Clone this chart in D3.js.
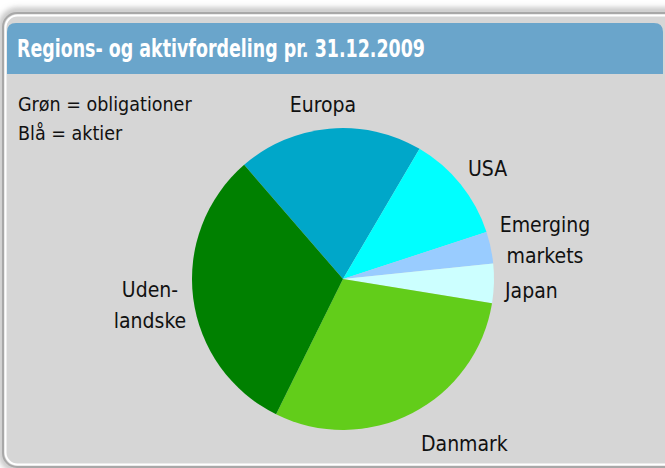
<!DOCTYPE html>
<html>
<head>
<meta charset="utf-8">
<script src="https://cdn.jsdelivr.net/npm/d3@7"></script>
<style>
  body { margin: 0; background: #ffffff; }
  svg { display: block; }
</style>
</head>
<body>
<svg id="chart"></svg>
<script>
// data (shares in %)
var categories = ["Europa", "USA", "Emerging markets", "Japan", "Danmark", "Udenlandske"];
var shares = [19.8, 11.5, 3.4, 4.2, 29.7, 31.3];
var sliceColors = ["#00a7c9", "#00ffff", "#99ccff", "#ccffff", "#62cd1a", "#008000"];
var titleText = "Regions- og aktivfordeling pr. 31.12.2009";
var noteLines = ["Grøn = obligationer", "Blå = aktier"];

var screen = {width: 665, height: 468};
var labelFont = "'DejaVu Sans Condensed', 'DejaVu Sans', sans-serif";

var svg = d3.select("#chart")
    .attr("width", screen.width)
    .attr("height", screen.height);

var defs = svg.append("defs");
defs.append("filter")
    .attr("id", "soft")
    .attr("x", "-10%").attr("y", "-10%")
    .attr("width", "120%").attr("height", "120%")
    .append("feGaussianBlur")
    .attr("stdDeviation", 3);

// soft shadow round the panel
svg.append("rect")
    .attr("x", 2).attr("y", 11)
    .attr("width", 690).attr("height", 458)
    .attr("rx", 15)
    .attr("fill", "none")
    .attr("stroke", "#9a9a9a")
    .attr("stroke-width", 4)
    .attr("filter", "url(#soft)");

// panel frame
svg.append("rect")
    .attr("x", 3).attr("y", 13)
    .attr("width", 690).attr("height", 454)
    .attr("rx", 14)
    .attr("fill", "#d6d6d6")
    .attr("stroke", "#a8a8a8")
    .attr("stroke-width", 2);
svg.append("rect")
    .attr("x", 5.5).attr("y", 15.5)
    .attr("width", 690).attr("height", 449)
    .attr("rx", 12)
    .attr("fill", "none")
    .attr("stroke", "#ffffff")
    .attr("stroke-width", 2);

// header bar (rounded top corners only)
var hx = 7, hy = 23, hw = 656, hh = 51, hr = 9;
svg.append("path")
    .attr("d", "M" + hx + "," + (hy + hh) +
        " V" + (hy + hr) +
        " Q" + hx + "," + hy + " " + (hx + hr) + "," + hy +
        " H" + (hx + hw - hr) +
        " Q" + (hx + hw) + "," + hy + " " + (hx + hw) + "," + (hy + hr) +
        " V" + (hy + hh) + " Z")
    .attr("fill", "#6aa5cb");

var title = svg.append("text")
    .attr("x", 17).attr("y", 57)
    .attr("fill", "#ffffff")
    .attr("font-family", "'Liberation Sans Narrow', 'DejaVu Sans Condensed', sans-serif")
    .attr("font-weight", "bold")
    .attr("font-size", "25.5px")
    .text(titleText);
var tw = title.node().getComputedTextLength();
if (Math.abs(tw - 408) > 4) {
    title.attr("textLength", 408).attr("lengthAdjust", "spacingAndGlyphs");
}

// note in the corner
svg.append("g")
    .selectAll("text")
    .data(noteLines)
    .enter()
    .append("text")
    .attr("x", 18)
    .attr("y", function(d, i) { return 111 + i * 29; })
    .attr("font-family", labelFont)
    .attr("font-size", "19.5px")
    .attr("fill", "#111")
    .text(function(d) { return d; });

// pie
var center = {x: 343, y: 279};
var radius = 151;
var start = -40.9 * Math.PI / 180;

var pie = d3.pie()
    .sort(null)
    .value(function(d) { return d; })
    .startAngle(start)
    .endAngle(start + 2 * Math.PI);

var arc = d3.arc().innerRadius(0).outerRadius(radius);

var colorScale = d3.scaleOrdinal().domain(categories).range(sliceColors);

var arcs = pie(shares);

var plot = svg.append("g")
    .attr("id", "graph")
    .attr("transform", "translate(" + center.x + "," + center.y + ")");

plot.selectAll("path")
    .data(arcs)
    .enter()
    .append("path")
    .attr("d", arc)
    .attr("fill", function(d, i) { return colorScale(categories[i]); });

// label placement (text lines, anchor x, first baseline)
var labelLayout = {
    "Europa": {lines: ["Europa"], x: 323, y: 112, anchor: "middle"},
    "USA": {lines: ["USA"], x: 468, y: 176, anchor: "start"},
    "Emerging markets": {lines: ["Emerging", "markets"], x: 545, y: 232, anchor: "middle"},
    "Japan": {lines: ["Japan"], x: 505, y: 298, anchor: "start"},
    "Danmark": {lines: ["Danmark"], x: 421, y: 451, anchor: "start"},
    "Udenlandske": {lines: ["Uden-", "landske"], x: 150, y: 297, anchor: "middle"}
};

var labels = svg.append("g").attr("id", "labels")
    .selectAll("text")
    .data(categories)
    .enter()
    .append("text")
    .attr("font-family", labelFont)
    .attr("font-size", "21px")
    .attr("fill", "#111")
    .attr("text-anchor", function(d) { return labelLayout[d].anchor; });

labels.each(function(d) {
    var lay = labelLayout[d];
    var t = d3.select(this);
    lay.lines.forEach(function(line, i) {
        t.append("tspan")
            .attr("x", lay.x)
            .attr("y", lay.y + i * 31)
            .text(line);
    });
});
</script>
</body>
</html>
